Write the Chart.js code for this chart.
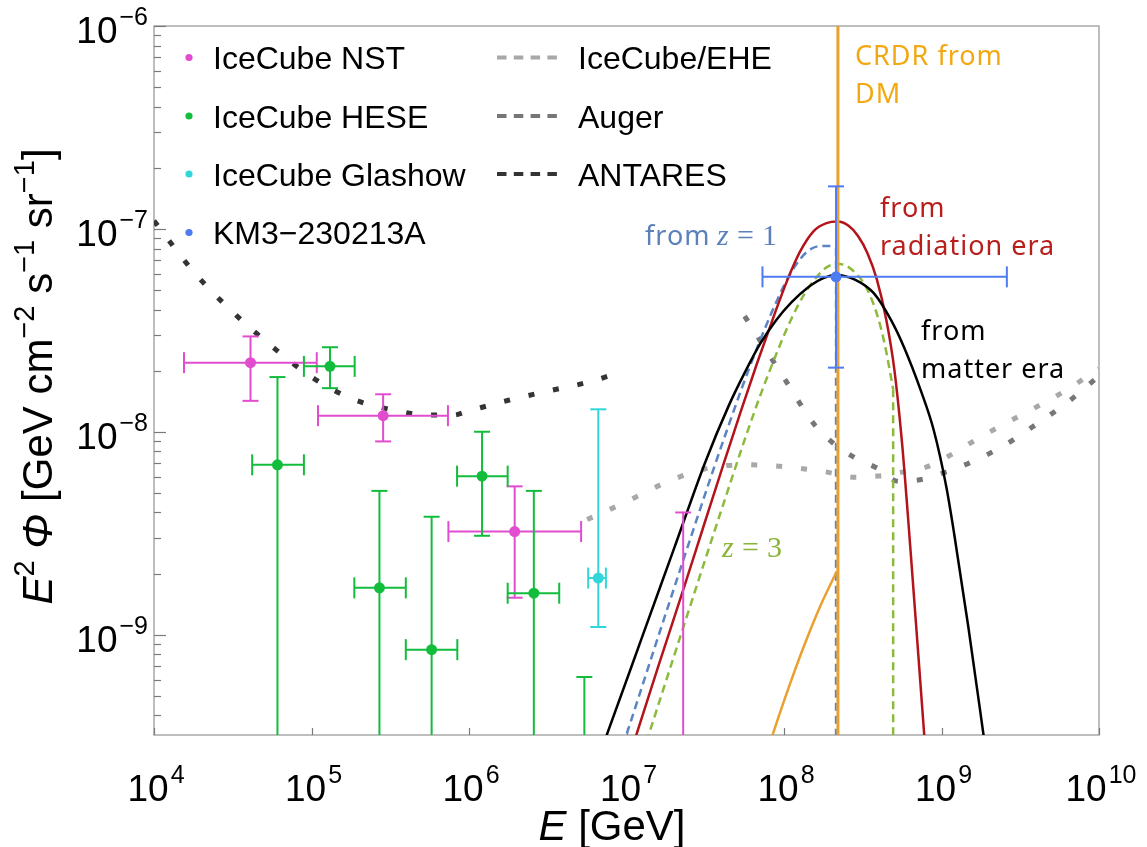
<!DOCTYPE html>
<html>
<head>
<meta charset="utf-8">
<title>Neutrino flux: E^2 Phi vs E</title>
<script src="https://cdn.jsdelivr.net/npm/chart.js@4.4.1/dist/chart.umd.min.js"></script>
<style>
html,body{margin:0;padding:0;background:#ffffff;}
canvas{display:block;}
</style>
</head>
<body>
<canvas id="chart" width="1147" height="847"></canvas>
<script>
// ---------- Values (E in GeV, E^2 Phi in GeV cm^-2 s^-1 sr^-1) ----------
const xTickExponents = [4, 5, 6, 7, 8, 9, 10];
const yTickExponents = [-9, -8, -7, -6];

// IceCube NST
const nstE      = [4.1e4, 2.85e5, 1.95e6];
const nstFlux   = [2.19e-8, 1.20e-8, 3.22e-9];
const nstELo    = [1.55e4, 1.10e5, 7.4e5];
const nstEHi    = [1.08e5, 7.35e5, 5.15e6];
const nstFluxLo = [1.42e-8, 8.96e-9, 1.52e-9];
const nstFluxHi = [2.95e-8, 1.53e-8, 5.38e-9];
const nstLimitE = [2.29e7];
const nstLimitFluxHi = [4.0e-9];

// IceCube HESE (0 = lower error reaches zero)
const heseE      = [6.08e4, 1.31e5, 2.70e5, 5.79e5, 1.21e6, 2.58e6];
const heseFlux   = [6.87e-9, 2.10e-8, 1.70e-9, 8.43e-10, 6.04e-9, 1.60e-9];
const heseELo    = [4.2e4, 8.95e4, 1.87e5, 3.97e5, 8.4e5, 1.76e6];
const heseEHi    = [8.95e4, 1.88e5, 3.97e5, 8.43e5, 1.76e6, 3.74e6];
const heseFluxLo = [0, 1.64e-8, 0, 0, 3.07e-9, 0];
const heseFluxHi = [1.86e-8, 2.61e-8, 5.11e-9, 3.81e-9, 1.0e-8, 5.11e-9];
const heseLimitE = [5.4e6];
const heseLimitFluxHi = [6.18e-10];

// IceCube Glashow
const glashowE = [6.62e6];
const glashowFlux = [1.90e-9];
const glashowELo = [5.71e6];
const glashowEHi = [7.40e6];
const glashowFluxLo = [1.09e-9];
const glashowFluxHi = [1.29e-8];

// KM3-230213A
const km3E = [2.14e8];
const km3Flux = [5.8e-8];
const km3ELo = [7.3e7];
const km3EHi = [2.6e9];
const km3FluxLo = [2.07e-8];
const km3FluxHi = [1.62e-7];

// Experimental limits (dotted)
const antaresE    = [1e4, 1.778e4, 3.162e4, 5.623e4, 1e5, 1.778e5, 3.162e5, 5.623e5, 7.943e5, 1e6, 1.778e6, 3.162e6, 5.623e6, 8.913e6];
const antaresFlux = [1.096e-7, 6.166e-8, 3.890e-8, 2.630e-8, 1.862e-8, 1.462e-8, 1.288e-8, 1.208e-8, 1.208e-8, 1.268e-8, 1.429e-8, 1.585e-8, 1.750e-8, 1.950e-8];
const eheE    = [5.623e6, 1e7, 1.778e7, 3.162e7, 5.623e7, 1e8, 1.778e8, 2.818e8, 3.981e8, 5.623e8, 7.943e8, 1.122e9, 1.778e9, 3.162e9, 5.623e9, 1e10];
const eheFlux = [3.690e-9, 4.519e-9, 5.623e-9, 6.561e-9, 6.871e-9, 6.730e-9, 6.368e-9, 5.970e-9, 6.053e-9, 6.324e-9, 6.683e-9, 7.621e-9, 9.441e-9, 1.202e-8, 1.531e-8, 2.042e-8];
const augerE    = [5.623e7, 1e8, 1.585e8, 2.089e8, 2.818e8, 3.890e8, 5.370e8, 7.762e8, 1e9, 1.585e9, 2.512e9, 3.981e9, 6.310e9, 1e10];
const augerFlux = [3.715e-8, 1.841e-8, 1.067e-8, 8.690e-9, 7.447e-9, 6.622e-9, 5.689e-9, 5.848e-9, 6.223e-9, 7.145e-9, 8.590e-9, 1.086e-8, 1.396e-8, 1.884e-8];

// Model curves
const matterE    = [6.31e6, 7.29e6, 1.259e7, 1.995e7, 3.162e7, 4.467e7, 5.623e7, 7.079e7, 8.913e7, 1.122e8, 1.413e8, 1.778e8, 2.138e8, 2.818e8, 3.715e8, 4.786e8, 5.754e8, 7.413e8, 8.913e8, 1.072e9, 1.202e9, 1.479e9, 1.845e9, 1.995e9];
const matterFlux = [2.239e-10, 3.020e-10, 9.772e-10, 2.630e-9, 7.079e-9, 1.349e-8, 1.950e-8, 2.723e-8, 3.548e-8, 4.365e-8, 5.129e-8, 5.715e-8, 5.929e-8, 5.623e-8, 4.819e-8, 3.548e-8, 2.630e-8, 1.585e-8, 1.023e-8, 5.370e-9, 3.162e-9, 1.096e-9, 3.236e-10, 2.089e-10];
const radiationE    = [1.0e7, 1.156e7, 1.585e7, 2.291e7, 3.162e7, 4.169e7, 5.370e7, 6.761e7, 8.710e7, 1.047e8, 1.259e8, 1.549e8, 1.862e8, 2.188e8, 2.570e8, 2.951e8, 3.388e8, 3.890e8, 4.467e8, 5.012e8, 5.623e8, 6.310e8, 7.079e8, 7.727e8, 8.128e8];
const radiationFlux = [2.239e-10, 3.214e-10, 6.918e-10, 1.660e-9, 3.631e-9, 7.079e-9, 1.288e-8, 2.188e-8, 3.802e-8, 5.559e-8, 7.674e-8, 9.772e-8, 1.067e-7, 1.086e-7, 1.035e-7, 9.226e-8, 7.586e-8, 5.623e-8, 3.548e-8, 2.042e-8, 8.710e-9, 2.818e-9, 8.511e-10, 3.388e-10, 1.995e-10];
const z1E    = [8.913e6, 1e7, 1.585e7, 2.512e7, 3.548e7, 4.467e7, 5.370e7, 6.761e7, 8.318e7, 1e8, 1.161e8, 1.413e8, 1.698e8, 1.950e8, 2.133e8];
const z1Flux = [2.455e-10, 3.214e-10, 9.705e-10, 2.884e-9, 6.457e-9, 1.084e-8, 1.622e-8, 2.600e-8, 3.846e-8, 5.248e-8, 6.457e-8, 7.762e-8, 8.222e-8, 8.222e-8, 8.072e-8];
const z1CutE = [2.133e8, 2.133e8];
const z1CutFlux = [8.072e-8, 1e-10];
const z3E    = [1.259e7, 1.384e7, 1.995e7, 3.162e7, 4.571e7, 5.623e7, 7.079e7, 9.120e7, 1.096e8, 1.349e8, 1.622e8, 1.862e8, 2.138e8, 2.455e8, 2.818e8, 3.311e8, 3.890e8, 4.365e8, 4.932e8];
const z3Flux = [2.570e-10, 3.214e-10, 7.762e-10, 2.344e-9, 5.623e-9, 9.120e-9, 1.514e-8, 2.512e-8, 3.508e-8, 4.786e-8, 5.821e-8, 6.457e-8, 6.730e-8, 6.607e-8, 6.095e-8, 5.188e-8, 3.802e-8, 2.692e-8, 1.622e-8];
const z3CutE = [4.932e8, 4.932e8];
const z3CutFlux = [1.622e-8, 1e-10];
const crdrE    = [7.943e7, 8.472e7, 1.072e8, 1.349e8, 1.698e8, 2.163e8];
const crdrFlux = [2.754e-10, 3.214e-10, 5.495e-10, 8.913e-10, 1.380e-9, 2.051e-9];
const crdrLineE = [2.2e8, 2.2e8];
const crdrLineFlux = [1e-10, 1e-5];

// ---------- helpers ----------
const SANS = '"Liberation Sans", Arial, Helvetica, sans-serif';
const pts = (xs, ys) => xs.map((v, i) => ({ x: v, y: ys[i] }));

const C = {
  nst: '#e24ccf', hese: '#12bd3c', glashow: '#33d6d8', km3: '#4f7bf2',
  matter: '#000000', radiation: '#b3141b', z1: '#5b84c4', z3: '#8cba3c', crdr: '#e9a02e',
  ehe: '#a8a8a8', auger: '#767676', antares: '#343434'
};

function pointSet(label, xs, ys, color, err) {
  return { label, data: pts(xs, ys), showLine: false, pointRadius: 5.5, pointHoverRadius: 5.5,
    pointBackgroundColor: color, pointBorderColor: color, pointBorderWidth: 0, err };
}
function limitSet(label, xs, tops, color) {
  return { label, data: pts(xs, tops), showLine: false, pointRadius: 0,
    err: { color, x: xs, y: tops, yLo: xs.map(() => 0), yHi: tops } };
}
function curveSet(label, xs, ys, color, width, dash, mono) {
  return { label, data: pts(xs, ys), showLine: true, pointRadius: 0, borderColor: color,
    borderWidth: width, borderDash: dash || [], borderCapStyle: 'butt', fill: false,
    cubicInterpolationMode: mono ? 'monotone' : 'default', tension: mono ? 0.4 : 0 };
}
const dots = [6, 19];

const datasets = [
  pointSet('KM3-230213A', km3E, km3Flux, C.km3,
    { color: C.km3, x: km3E, y: km3Flux, xLo: km3ELo, xHi: km3EHi, yLo: km3FluxLo, yHi: km3FluxHi }),
  pointSet('IceCube Glashow', glashowE, glashowFlux, C.glashow,
    { color: C.glashow, x: glashowE, y: glashowFlux, xLo: glashowELo, xHi: glashowEHi, yLo: glashowFluxLo, yHi: glashowFluxHi }),
  pointSet('IceCube HESE', heseE, heseFlux, C.hese,
    { color: C.hese, x: heseE, y: heseFlux, xLo: heseELo, xHi: heseEHi, yLo: heseFluxLo, yHi: heseFluxHi }),
  limitSet('IceCube HESE limit', heseLimitE, heseLimitFluxHi, C.hese),
  pointSet('IceCube NST', nstE, nstFlux, C.nst,
    { color: C.nst, x: nstE, y: nstFlux, xLo: nstELo, xHi: nstEHi, yLo: nstFluxLo, yHi: nstFluxHi }),
  limitSet('IceCube NST limit', nstLimitE, nstLimitFluxHi, C.nst),
  curveSet('CRDR line', crdrLineE, crdrLineFlux, C.crdr, 3, null, false),
  curveSet('CRDR from DM', crdrE, crdrFlux, C.crdr, 2.5, null, true),
  curveSet('from matter era', matterE, matterFlux, C.matter, 2.5, null, true),
  curveSet('from radiation era', radiationE, radiationFlux, C.radiation, 2.5, null, true),
  curveSet('z = 3', z3E, z3Flux, C.z3, 2.5, [8, 5], true),
  curveSet('z = 3 cut', z3CutE, z3CutFlux, C.z3, 2.5, [8, 5], false),
  curveSet('from z = 1', z1E, z1Flux, C.z1, 2.5, [8, 5], true),
  curveSet('z = 1 cut', z1CutE, z1CutFlux, C.z1, 2, [8, 5], false),
  curveSet('ANTARES', antaresE, antaresFlux, C.antares, 5, dots, true),
  curveSet('Auger', augerE, augerFlux, C.auger, 5, dots, true),
  curveSet('IceCube/EHE', eheE, eheFlux, C.ehe, 5, dots, true)
];

// ---------- plugins ----------
const errorBars = {
  id: 'errorBars',
  beforeDatasetDraw(chart, args) {
    const ds = chart.data.datasets[args.index];
    if (!ds.err) return;
    const e = ds.err, ctx = chart.ctx, a = chart.chartArea, xs = chart.scales.x, ys = chart.scales.y;
    ctx.save();
    ctx.beginPath(); ctx.rect(a.left, a.top, a.right - a.left, a.bottom - a.top); ctx.clip();
    ctx.strokeStyle = e.color; ctx.lineWidth = 2;
    const seg = (x1, y1, x2, y2) => { ctx.beginPath(); ctx.moveTo(x1, y1); ctx.lineTo(x2, y2); ctx.stroke(); };
    for (let i = 0; i < e.x.length; i++) {
      const px = xs.getPixelForValue(e.x[i]);
      const top = ys.getPixelForValue(e.yHi[i]);
      const bot = e.yLo[i] > 0 ? ys.getPixelForValue(e.yLo[i]) : a.bottom + 4;
      seg(px, top, px, bot);
      seg(px - 8, top, px + 8, top);
      if (e.yLo[i] > 0) seg(px - 8, bot, px + 8, bot);
      if (e.xLo) {
        const py = ys.getPixelForValue(e.y[i]);
        const l = xs.getPixelForValue(e.xLo[i]), r = xs.getPixelForValue(e.xHi[i]);
        seg(l, py, r, py);
        seg(l, py - 10.5, l, py + 10.5);
        seg(r, py - 10.5, r, py + 10.5);
      }
    }
    ctx.restore();
  }
};

function drawPow(ctx, exp, x, baseline, align) {
  const sup = exp < 0 ? '\u2212' + Math.abs(exp) : String(exp);
  ctx.font = '37px ' + SANS; const wb = ctx.measureText('10').width;
  ctx.font = '25px ' + SANS; const ws = ctx.measureText(sup).width;
  const total = wb + 2 + ws;
  const x0 = align === 'right' ? x - total : x - total / 2;
  ctx.textAlign = 'left'; ctx.textBaseline = 'alphabetic';
  ctx.font = '37px ' + SANS; ctx.fillText('10', x0, baseline);
  ctx.font = '25px ' + SANS; ctx.fillText(sup, x0 + wb + 2, baseline - 18);
}

function drawRuns(ctx, runs, size, cx, baseline) {
  const fontOf = r => (r.it ? 'italic ' : '') + (r.sup ? Math.round(size * 0.68) : size) + 'px ' + SANS;
  let w = 0;
  runs.forEach(r => { ctx.font = fontOf(r); r.w = ctx.measureText(r.t).width; w += r.w; });
  let x = cx - w / 2;
  ctx.textAlign = 'left'; ctx.textBaseline = 'alphabetic';
  runs.forEach(r => { ctx.font = fontOf(r); ctx.fillText(r.t, x, r.sup ? baseline - size * 0.42 : baseline); x += r.w; });
}

const frameAndAxes = {
  id: 'frameAndAxes',
  beforeDatasetsDraw(chart) {
    const ctx = chart.ctx, a = chart.chartArea, xs = chart.scales.x, ys = chart.scales.y;
    ctx.save();
    ctx.strokeStyle = '#9b9b9b'; ctx.lineWidth = 1.3;
    ctx.strokeRect(a.left, a.top, a.right - a.left, a.bottom - a.top);
    ctx.strokeStyle = '#7a7a7a'; ctx.lineWidth = 1.2;
    yTickExponents.concat([-10]).forEach(ex => {
      for (let k = 1; k <= 9; k++) {
        const v = k * Math.pow(10, ex);
        if (v < ys.min * 0.999 || v > ys.max * 1.001) continue;
        const py = Math.round(ys.getPixelForValue(v)) + 0.5;
        const len = k === 1 ? 12 : 7;
        ctx.beginPath(); ctx.moveTo(a.left, py); ctx.lineTo(a.left + len, py); ctx.stroke();
      }
    });
    xTickExponents.forEach(ex => {
      const px = Math.round(xs.getPixelForValue(Math.pow(10, ex))) + 0.5;
      ctx.beginPath(); ctx.moveTo(px, a.bottom); ctx.lineTo(px, a.bottom - 7); ctx.stroke();
    });
    ctx.restore();
  },
  afterDraw(chart) {
    const ctx = chart.ctx, a = chart.chartArea, xs = chart.scales.x, ys = chart.scales.y;
    ctx.save();
    ctx.fillStyle = '#000';
    xTickExponents.forEach(ex => drawPow(ctx, ex, xs.getPixelForValue(Math.pow(10, ex)) + 2, 801, 'center'));
    yTickExponents.forEach(ex => drawPow(ctx, ex, a.left - 6, ys.getPixelForValue(Math.pow(10, ex)) + 17, 'right'));
    drawRuns(ctx, [{ t: 'E', it: true }, { t: ' [GeV]' }], 42, 612, 840);
    ctx.translate(52, (a.top + a.bottom) / 2 - 4);
    ctx.rotate(-Math.PI / 2);
    drawRuns(ctx, [{ t: 'E', it: true }, { t: '2', sup: true }, { t: ' ' }, { t: '\u03A6', it: true },
      { t: ' [GeV cm' }, { t: '\u22122', sup: true }, { t: ' s' }, { t: '\u22121', sup: true },
      { t: ' sr' }, { t: '\u22121', sup: true }, { t: ']' }], 42, 0, 0);
    ctx.restore();
  }
};

const legendAndNotes = {
  id: 'legendAndNotes',
  afterDraw(chart) {
    const ctx = chart.ctx;
    ctx.save();
    ctx.textAlign = 'left'; ctx.textBaseline = 'alphabetic';
    const rows = [57.5, 116, 174, 232.5];
    const left = [['IceCube NST', C.nst], ['IceCube HESE', C.hese], ['IceCube Glashow', C.glashow], ['KM3\u2212230213A', C.km3]];
    left.forEach(([t, c], i) => {
      ctx.fillStyle = c; ctx.beginPath(); ctx.arc(189, rows[i], 3.6, 0, Math.PI * 2); ctx.fill();
      ctx.fillStyle = '#000'; ctx.font = '32px ' + SANS; ctx.fillText(t, 213, rows[i] + 11.5);
    });
    const right = [['IceCube/EHE', C.ehe], ['Auger', C.auger], ['ANTARES', C.antares]];
    right.forEach(([t, c], i) => {
      ctx.strokeStyle = c; ctx.lineWidth = 4; ctx.setLineDash([9.5, 7.3]);
      ctx.beginPath(); ctx.moveTo(497, rows[i]); ctx.lineTo(557, rows[i]); ctx.stroke();
      ctx.setLineDash([]);
      ctx.fillStyle = '#000'; ctx.font = '32px ' + SANS; ctx.fillText(t, 578, rows[i] + 11.5);
    });
    const note = '27px "Noto Sans", "DejaVu Sans", sans-serif';
    ctx.font = note;
    if ('letterSpacing' in ctx) ctx.letterSpacing = '1px';
    ctx.fillStyle = '#f2a812';
    ctx.fillText('CRDR from', 855, 65); ctx.fillText('DM', 855, 103);
    ctx.fillStyle = '#b81e1c';
    ctx.fillText('from', 880, 217); ctx.fillText('radiation era', 880, 255);
    ctx.fillStyle = '#000';
    ctx.fillText('from', 921, 340); ctx.fillText('matter era', 921, 378);
    ctx.fillStyle = '#5b80ba';
    ctx.fillText('from', 645, 245);
    if ('letterSpacing' in ctx) ctx.letterSpacing = '0px';
    const serif = '"Liberation Serif", "DejaVu Serif", serif';
    const zEq = (x, y, num, color) => {
      ctx.fillStyle = color;
      ctx.font = 'italic 30px ' + serif; ctx.fillText('z', x, y);
      ctx.font = '30px ' + serif; ctx.fillText('=', x + 20, y); ctx.fillText(num, x + 45, y);
    };
    zEq(717, 245, '1', '#5b80ba');
    zEq(722, 557, '3', '#8ab43a');
    ctx.restore();
  }
};

new Chart(document.getElementById('chart'), {
  type: 'scatter',
  data: { datasets },
  options: {
    responsive: false,
    devicePixelRatio: 1,
    animation: false,
    events: [],
    layout: { padding: { left: 146, right: 48, top: 26, bottom: 104 } },
    plugins: { legend: { display: false }, tooltip: { enabled: false } },
    scales: {
      x: { type: 'logarithmic', min: 1e4, max: 1e10,
        ticks: { display: false }, grid: { display: false }, border: { display: false }, title: { display: false } },
      y: { type: 'logarithmic', min: 3.2e-10, max: 1e-6,
        ticks: { display: false }, grid: { display: false }, border: { display: false }, title: { display: false } }
    }
  },
  plugins: [errorBars, frameAndAxes, legendAndNotes]
});
</script>
</body>
</html>
